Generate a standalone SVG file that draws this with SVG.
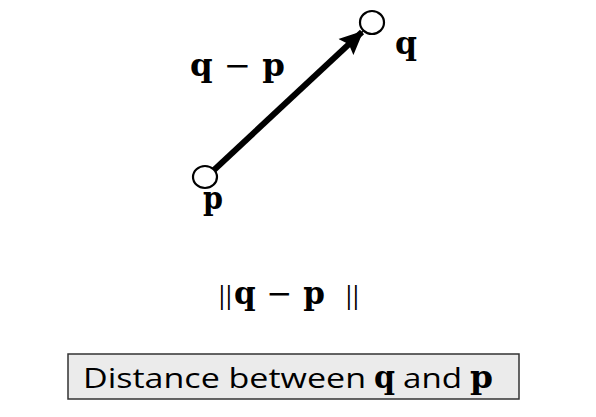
<svg xmlns="http://www.w3.org/2000/svg" width="596" height="417" viewBox="0 0 596 417">
<style>
.pt{fill:#fff;stroke:#000;stroke-width:2.2}
.bs{font-family:"DejaVu Serif","Liberation Serif",serif;font-weight:bold;fill:#000;font-size:31px}
.mn{font-weight:normal}
.ss{font-family:"Open Sans","DejaVu Sans",sans-serif;fill:#000}
</style>
<defs>
<marker id="ah" markerUnits="userSpaceOnUse" markerWidth="24" markerHeight="24" viewBox="0 0 24 24" refX="22" refY="12" orient="auto">
<path d="M0,1 L24,12 L0,23 L4,12 Z" fill="#000"/>
</marker>
</defs>
<rect width="596" height="417" fill="#fff"/>
<g id="connectors">
<line x1="214" y1="170" x2="362" y2="32" stroke="#000" stroke-width="6" marker-end="url(#ah)"/>
</g>
<g id="node-p">
<ellipse class="pt" cx="205" cy="177" rx="12" ry="11"/>
<text class="bs" x="203" y="209" textLength="20" lengthAdjust="spacingAndGlyphs">p</text>
</g>
<g id="node-q">
<ellipse class="pt" cx="372" cy="22.5" rx="12" ry="11.5"/>
<text class="bs" x="395" y="54" textLength="22" lengthAdjust="spacingAndGlyphs">q</text>
</g>
<g id="label-diff">
<text class="bs" x="190" y="76" textLength="95" lengthAdjust="spacingAndGlyphs">q <tspan class="mn">−</tspan> p</text>
</g>
<g id="label-norm">
<text y="304" font-size="25"><tspan class="ss" x="215 222">||</tspan><tspan class="bs" x="234" font-size="28">q <tspan class="mn">−</tspan> p</tspan><tspan class="ss" x="342 349">||</tspan></text>
</g>
<g id="caption">
<rect x="68" y="354" width="451" height="45" fill="#ebebeb" stroke="#333" stroke-width="1.5"/>
<text class="ss" x="83" y="388" font-size="28" textLength="283" lengthAdjust="spacingAndGlyphs">Distance between</text>
<text class="bs" x="374" y="388" font-size="30" textLength="21" lengthAdjust="spacingAndGlyphs">q</text>
<text class="ss" x="403" y="388" font-size="28" textLength="59" lengthAdjust="spacingAndGlyphs">and</text>
<text class="bs" x="470" y="388" font-size="30" textLength="23" lengthAdjust="spacingAndGlyphs">p</text>
</g>
</svg>
